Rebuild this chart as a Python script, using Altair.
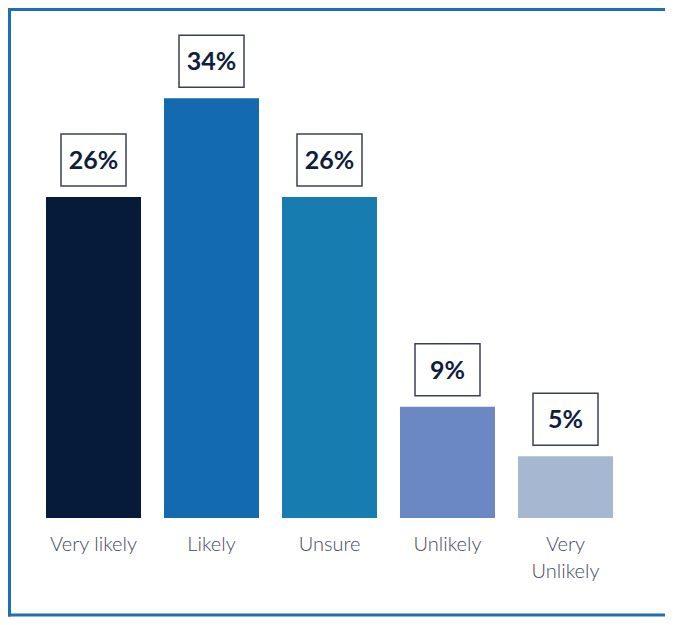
import altair as alt
import pandas as pd

categories = ["Very likely", "Likely", "Unsure", "Unlikely", "Very Unlikely"]
values = [26, 34, 26, 9, 5]
labels = ["26%", "34%", "26%", "9%", "5%"]
colors = ["#061a3a", "#136aae", "#177db0", "#6b88c4", "#a6b8d1"]

df = pd.DataFrame({"cat": categories, "val": values, "label": labels})

W, H = 657, 609
frame_color = "#1f6fb4"

xscale = alt.Scale(domain=categories, range=[26.5, 616.5], paddingInner=0.195, paddingOuter=0.0975)
yscale = alt.Scale(domain=[0, 41.3], range=[510, 0])

x = alt.X("cat:N", sort=categories, scale=xscale,
          axis=alt.Axis(title=None, domain=False, ticks=False, grid=False, labelAngle=0,
                        labelFont="Lato", labelFontSize=20, labelFontWeight=300,
                        labelColor="#454a5e", labelPadding=16, labelLineHeight=27,
                        labelExpr="datum.value == 'Very Unlikely' ? ['Very', 'Unlikely'] : datum.value"))
y = alt.Y("val:Q", scale=yscale, axis=None)

base = alt.Chart(df)

bars = base.mark_bar().encode(
    x=x, y=y,
    color=alt.Color("cat:N", scale=alt.Scale(domain=categories, range=colors), legend=None),
)

boxes = base.mark_point(
    shape="M-1,-0.8L1,-0.8L1,0.8L-1,0.8Z", size=4225, filled=False,
    stroke="#3c3f58", strokeWidth=1.5, fill="white", fillOpacity=1, opacity=1, yOffset=-37,
).encode(x=x, y=y)

texts = base.mark_text(
    font="Lato", fontSize=25, fontWeight="bold", color="#0f1e3c", baseline="middle",
    yOffset=-36,
).encode(x=x, y=y, text="label:N")

one = alt.Chart(pd.DataFrame({"k": [0]}))
left_rule = one.mark_rule(color=frame_color, strokeWidth=3).encode(
    x=alt.value(1.5), y=alt.value(0), y2=alt.value(H - 0.5))
top_rule = one.mark_rule(color=frame_color, strokeWidth=3).encode(
    x=alt.value(0), x2=alt.value(W), y=alt.value(1.5))
bottom_rule = one.mark_rule(color=frame_color, strokeWidth=3).encode(
    x=alt.value(0), x2=alt.value(W), y=alt.value(H - 2))

chart = alt.layer(bars, boxes, texts, left_rule, top_rule, bottom_rule).properties(
    width=W, height=510,
    background="white",
    autosize=alt.AutoSizeParams(type="none"),
    padding={"left": 0, "top": 0, "right": 0, "bottom": H - 510},
).configure_view(strokeWidth=0, stroke="transparent").configure_axis(
    domain=False, grid=False, ticks=False
)

chart.save("out.html", embed_options={"renderer": "svg", "actions": False})
